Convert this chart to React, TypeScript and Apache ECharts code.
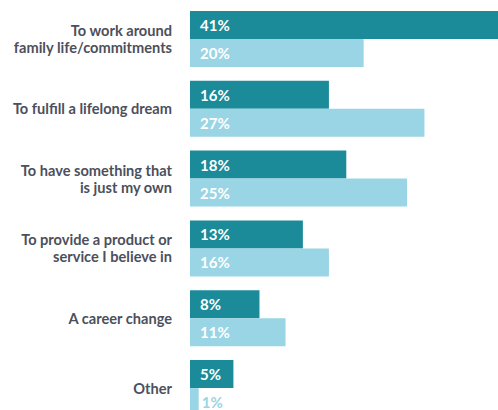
import React, { useEffect, useRef } from "react";
import * as echarts from "echarts";

const categories = [
  "To work around\nfamily life/commitments",
  "To fulfill a lifelong dream",
  "To have something that\nis just my own",
  "To provide a product or\nservice I believe in",
  "A career change",
  "Other",
];
const darkValues = [41, 16, 18, 13, 8, 5];
const lightValues = [20, 27, 25, 16, 11, 1];

const DARK = "#1B8B9A";
const LIGHT = "#9AD5E5";
const FONT = "Lato, 'Open Sans', sans-serif";

export default function App() {
  const ref = useRef<HTMLDivElement>(null);
  useEffect(() => {
    document.body.style.margin = "0";
    const chart = echarts.init(ref.current!, undefined, { renderer: "svg" });
    const valueLabel = {
      show: true,
      position: "insideLeft" as const,
      distance: 10,
      color: "#ffffff",
      fontFamily: FONT,
      fontWeight: "bold" as const,
      fontSize: 15,
      formatter: "{c}%",
    };
    chart.setOption({
      animation: false,
      grid: {
        left: 190,
        top: 4,
        width: 356,
        height: 419,
        containLabel: false,
        outerBoundsMode: "none",
      },
      xAxis: {
        type: "value",
        min: 0,
        max: 41,
        show: false,
      },
      yAxis: {
        type: "category",
        data: categories,
        inverse: true,
        axisLine: { show: false },
        axisTick: { show: false },
        splitLine: { show: false },
        axisLabel: {
          margin: 18,
          color: "#4C505C",
          fontFamily: FONT,
          fontWeight: "bold",
          fontSize: 14.6,
          lineHeight: 17,
          align: "right",
        },
      },
      series: [
        {
          type: "bar",
          data: darkValues,
          barWidth: 28,
          barGap: "0%",
          itemStyle: { color: DARK },
          label: valueLabel,
        },
        {
          type: "bar",
          data: lightValues.map((v) =>
            v < 3
              ? {
                  value: v,
                  label: { position: "right", distance: 3, color: LIGHT },
                }
              : v
          ),
          barWidth: 28,
          barGap: "0%",
          itemStyle: { color: LIGHT },
          label: valueLabel,
        },
      ],
    });
    return () => chart.dispose();
  }, []);
  return (
    <div
      ref={ref}
      style={{ position: "absolute", left: 0, top: 0, width: 498, height: 410 }}
    />
  );
}
